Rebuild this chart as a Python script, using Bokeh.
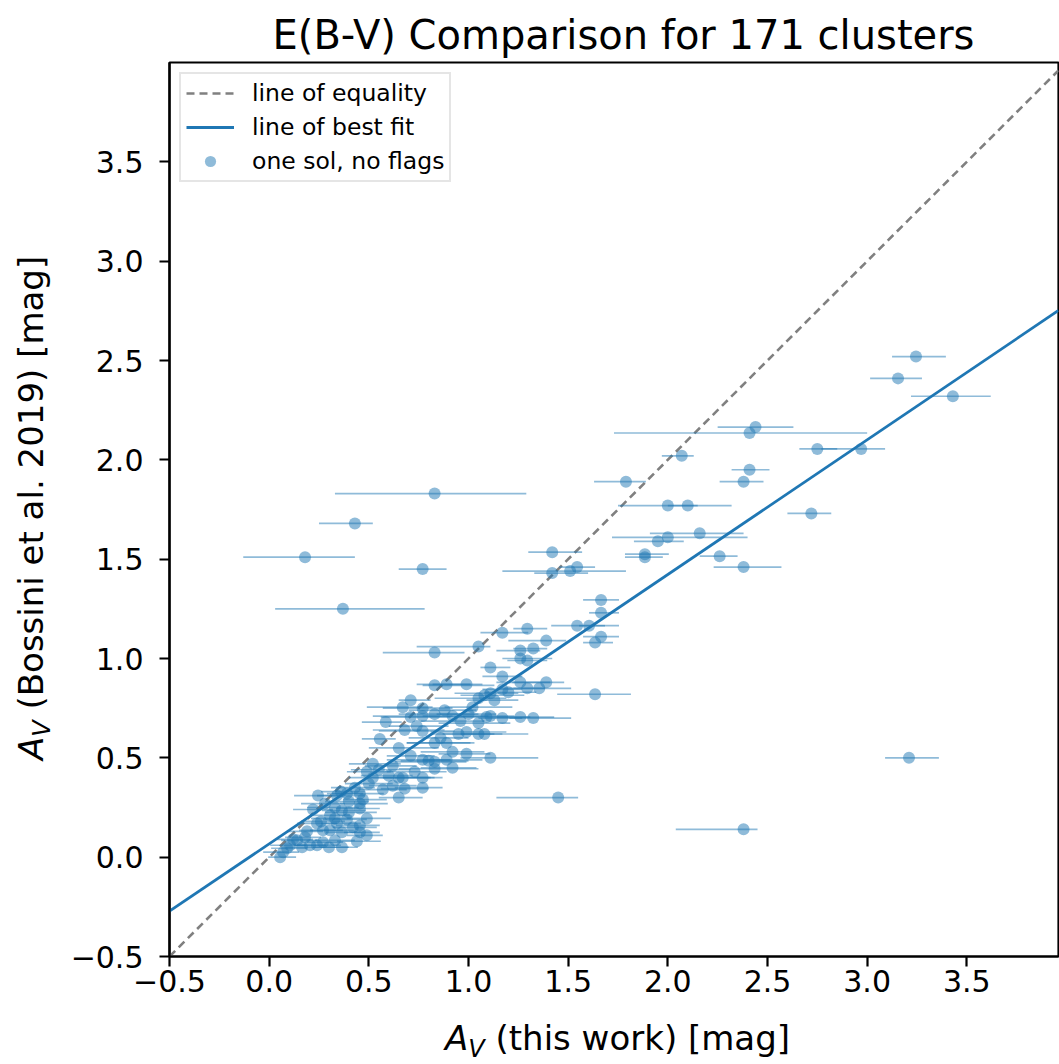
import numpy as np
from bokeh.plotting import figure
from bokeh.layouts import row, column
from bokeh.models import Div, FixedTicker, Range1d
from bokeh.embed import file_html
from bokeh.resources import INLINE

FONT = "DejaVu Sans"
BLUE = "#1f77b4"

# A_V from this work (x), A_V from Bossini et al. 2019 (y), and the
# lower / upper uncertainties on the x values.
av_this = [
    0.83, 0.43, 0.18, 0.77, 0.37, 1.45, 2.38, 3.21, 3.245, 3.155,
    3.43, 2.44, 2.41, 2.75, 2.97, 2.41, 2.38, 2.72, 2.07, 1.79,
    2.00, 2.10, 2.16, 2.00, 1.95, 1.885, 1.885, 2.26, 2.38, 1.665,
    1.665, 1.605, 1.545, 1.665, 1.635, 1.42, 1.51, 1.545, 1.42, 1.17,
    1.295, 1.39, 1.26, 1.325, 1.26, 1.295, 1.11, 1.17, 1.26, 1.39,
    1.295, 1.355, 1.635, 1.17, 1.11, 1.17, 1.26, 1.325, 1.05, 0.83,
    0.83, 0.89, 0.99, 0.71, 0.67, 0.585, 0.77, 0.71, 0.77, 0.83,
    0.92, 0.96, 1.02, 1.05, 1.08, 1.11, 1.05, 1.09, 0.99, 0.77,
    0.68, 0.83, 0.89, 0.92, 1.05, 1.08, 0.65, 0.71, 1.11, 0.77,
    0.80, 0.83, 0.89, 0.92, 0.83, 0.62, 0.65, 0.67, 0.77, 0.68,
    0.77, 0.65, 0.555, 0.52, 0.55, 0.49, 0.52, 0.245, 0.34, 0.40,
    0.455, 0.39, 0.455, 0.455, 0.33, 0.365, 0.40, 0.305, 0.33, 0.49,
    0.34, 0.24, 0.27, 0.305, 0.365, 0.42, 0.455, 0.49, 0.455, 0.18,
    0.14, 0.105, 0.165, 0.24, 0.27, 0.33, 0.365, 0.205, 0.09, 0.055,
    0.07, 0.22, 0.28, 0.36, 0.43, 0.47, 0.50, 0.26, 0.19, 0.12,
    0.39, 0.44, 0.30, 0.57, 0.60, 0.73, 0.86, 0.95, 1.00, 0.88,
    0.74, 1.20, 1.13, 0.62, 0.99,
]
av_bossini = [
    1.83, 1.68, 1.51, 1.45, 1.25, 0.30, 0.14, 0.50, 2.52, 2.41,
    2.32, 2.165, 2.135, 2.055, 2.055, 1.95, 1.89, 1.73, 2.02, 1.89,
    1.77, 1.77, 1.63, 1.61, 1.59, 1.525, 1.51, 1.515, 1.46, 1.295,
    1.23, 1.165, 1.165, 1.11, 1.08, 1.535, 1.44, 1.46, 1.43, 1.13,
    1.15, 1.09, 1.04, 1.05, 1.00, 0.99, 0.955, 0.91, 0.88, 0.88,
    0.85, 0.85, 0.82, 0.845, 0.71, 0.70, 0.705, 0.70, 1.06, 1.03,
    0.865, 0.87, 0.87, 0.79, 0.755, 0.68, 0.75, 0.705, 0.71, 0.72,
    0.71, 0.685, 0.755, 0.80, 0.815, 0.825, 0.675, 0.705, 0.63, 0.635,
    0.64, 0.575, 0.575, 0.53, 0.62, 0.62, 0.55, 0.51, 0.50, 0.49,
    0.485, 0.48, 0.49, 0.45, 0.445, 0.46, 0.40, 0.40, 0.40, 0.345,
    0.35, 0.30, 0.595, 0.47, 0.44, 0.43, 0.40, 0.31, 0.31, 0.28,
    0.32, 0.32, 0.27, 0.245, 0.25, 0.235, 0.225, 0.21, 0.195, 0.195,
    0.17, 0.17, 0.135, 0.135, 0.125, 0.15, 0.16, 0.11, 0.125, 0.10,
    0.085, 0.06, 0.05, 0.06, 0.075, 0.085, 0.05, 0.06, 0.045, 0.00,
    0.025, 0.24, 0.27, 0.33, 0.35, 0.29, 0.37, 0.18, 0.13, 0.09,
    0.19, 0.08, 0.05, 0.34, 0.41, 0.43, 0.60, 0.62, 0.72, 0.74,
    0.66, 0.83, 0.79, 0.36, 0.52,
]
err_lo = [
    0.50, 0.18, 0.31, 0.12, 0.34, 0.31, 0.34, 0.12, 0.12, 0.14,
    0.21, 0.19, 0.68, 0.09, 0.20, 0.09, 0.12, 0.12, 0.10, 0.16,
    0.25, 0.10, 0.25, 0.28, 0.12, 0.10, 0.10, 0.10, 0.15, 0.09,
    0.06, 0.05, 0.13, 0.09, 0.06, 0.12, 0.34, 0.09, 0.09, 0.11,
    0.07, 0.19, 0.12, 0.10, 0.09, 0.10, 0.05, 0.10, 0.12, 0.17,
    0.14, 0.13, 0.19, 0.10, 0.15, 0.12, 0.12, 0.12, 0.31, 0.26,
    0.06, 0.15, 0.17, 0.06, 0.18, 0.12, 0.20, 0.15, 0.25, 0.18,
    0.15, 0.20, 0.14, 0.22, 0.12, 0.18, 0.20, 0.16, 0.18, 0.22,
    0.16, 0.14, 0.20, 0.16, 0.18, 0.12, 0.15, 0.12, 0.15, 0.18,
    0.14, 0.20, 0.12, 0.16, 0.18, 0.14, 0.16, 0.10, 0.14, 0.12,
    0.14, 0.10, 0.09, 0.12, 0.14, 0.10, 0.12, 0.12, 0.10, 0.12,
    0.14, 0.10, 0.10, 0.12, 0.14, 0.10, 0.12, 0.10, 0.12, 0.10,
    0.08, 0.10, 0.12, 0.10, 0.08, 0.10, 0.12, 0.10, 0.08, 0.10,
    0.08, 0.10, 0.08, 0.10, 0.08, 0.10, 0.10, 0.08, 0.08, 0.06,
    0.10, 0.10, 0.12, 0.10, 0.12, 0.10, 0.12, 0.10, 0.10, 0.08,
    0.12, 0.10, 0.08, 0.12, 0.14, 0.14, 0.16, 0.14, 0.16, 0.18,
    0.14, 0.12, 0.14, 0.12, 0.14,
]
err_hi = [
    0.46, 0.09, 0.25, 0.12, 0.41, 0.10, 0.07, 0.15, 0.15, 0.12,
    0.19, 0.19, 0.59, 0.10, 0.12, 0.10, 0.10, 0.10, 0.06, 0.10,
    0.15, 0.22, 0.22, 0.40, 0.13, 0.12, 0.09, 0.09, 0.19, 0.09,
    0.09, 0.08, 0.21, 0.09, 0.09, 0.15, 0.28, 0.09, 0.18, 0.13,
    0.10, 0.10, 0.10, 0.07, 0.16, 0.10, 0.10, 0.10, 0.15, 0.09,
    0.09, 0.16, 0.18, 0.10, 0.12, 0.10, 0.17, 0.19, 0.06, 0.15,
    0.30, 0.12, 0.08, 0.10, 0.15, 0.08, 0.15, 0.20, 0.15, 0.22,
    0.18, 0.12, 0.20, 0.14, 0.20, 0.14, 0.16, 0.22, 0.20, 0.16,
    0.20, 0.18, 0.14, 0.16, 0.12, 0.22, 0.20, 0.12, 0.24, 0.14,
    0.20, 0.16, 0.18, 0.12, 0.22, 0.12, 0.18, 0.14, 0.10, 0.12,
    0.10, 0.12, 0.08, 0.14, 0.16, 0.12, 0.10, 0.10, 0.14, 0.10,
    0.12, 0.08, 0.14, 0.10, 0.12, 0.12, 0.14, 0.10, 0.08, 0.12,
    0.12, 0.10, 0.10, 0.12, 0.10, 0.12, 0.10, 0.08, 0.10, 0.08,
    0.10, 0.08, 0.10, 0.12, 0.10, 0.10, 0.08, 0.08, 0.10, 0.08,
    0.08, 0.10, 0.10, 0.12, 0.10, 0.12, 0.12, 0.12, 0.08, 0.10,
    0.10, 0.12, 0.10, 0.12, 0.12, 0.16, 0.14, 0.18, 0.14, 0.16,
    0.16, 0.14, 0.12, 0.12, 0.12,
]

# linear fit: A_V(Bossini) = fit_slope * A_V(this work) + fit_intercept
fit_slope = 0.678
fit_intercept = 0.067

x_limits = (-0.5, 3.96)
y_limits = (-0.5, 4.0)
tick_values = [-0.5, 0.0, 0.5, 1.0, 1.5, 2.0, 2.5, 3.0, 3.5]

x = np.array(av_this)
y = np.array(av_bossini)
lo = np.array(err_lo)
hi = np.array(err_hi)

# page geometry: y-label strip on the left, x-label strip at the bottom
LABEL_W = 60
LABEL_H = 52
PAGE_W, PAGE_H = 1059, 1064
FIG_W, FIG_H = PAGE_W - LABEL_W, PAGE_H - LABEL_H

p = figure(
    width=FIG_W, height=FIG_H,
    output_backend="svg", toolbar_location=None,
    x_range=Range1d(*x_limits), y_range=Range1d(*y_limits),
    min_border_left=109, min_border_right=1,
    min_border_top=62, min_border_bottom=56,
    title="E(B-V) Comparison for 171 clusters",
    margin=0,
)
p.background_fill_color = "white"
p.border_fill_color = "white"
p.xgrid.visible = False
p.ygrid.visible = False
p.outline_line_color = "black"
p.outline_line_width = 2.2

p.title.align = "left"
p.title.offset = 103
p.title.text_font = FONT
p.title.text_font_size = "40px"
p.title.text_font_style = "normal"
p.title.text_color = "black"

labels = {v: (f"{v:.1f}".replace("-", "\u2212")) for v in tick_values}
for ax in (p.xaxis, p.yaxis):
    ax.ticker = FixedTicker(ticks=tick_values)
    ax.major_label_overrides = labels
    ax.major_label_text_font = FONT
    ax.major_label_text_font_size = "30px"
    ax.major_label_text_color = "black"
    ax.major_tick_in = 0
    ax.major_tick_out = 10
    ax.major_tick_line_width = 2.2
    ax.minor_tick_line_color = None
    ax.axis_line_width = 2.2
    ax.axis_line_color = "black"
p.xaxis.major_label_standoff = 3
p.yaxis.major_label_standoff = 16

# line of equality and best fit
xl = np.array(x_limits)
p.line(xl, xl, line_color="#808080", line_width=2.6, line_dash="8 5",
       legend_label="line of equality")
p.line(xl, fit_slope * xl + fit_intercept, line_color=BLUE, line_width=2.8,
       legend_label="line of best fit")

# horizontal error bars and points
p.segment(x0=x - lo, y0=y, x1=x + hi, y1=y, line_color=BLUE,
          line_alpha=0.5, line_width=1.7)
p.scatter(x, y, size=12, fill_color=BLUE, fill_alpha=0.5, line_color=None,
          legend_label="one sol, no flags")

leg = p.legend[0]
leg.location = "top_left"
leg.label_text_font = FONT
leg.label_text_font_size = "23.5px"
leg.label_text_color = "black"
leg.border_line_color = "#cccccc"
leg.border_line_width = 2
leg.background_fill_alpha = 0.8
leg.margin = 10
leg.padding = 5
leg.spacing = 6
leg.glyph_width = 48
leg.glyph_height = 28
leg.label_height = 28
leg.label_standoff = 18

TEXT_CSS = ("white-space:nowrap;font-family:'DejaVu Sans';font-size:34px;"
            "line-height:1;color:black;")
SUB = ('<span style="font-size:24px;font-style:italic;position:relative;'
       'top:7px;">V</span>')

y_label = Div(
    width=LABEL_W, height=FIG_H, margin=0,
    text=(f'<div style="position:relative;width:{LABEL_W}px;height:{FIG_H}px;">'
          f'<span style="position:absolute;left:14px;top:760px;'
          f'transform:rotate(-90deg);transform-origin:0 0;{TEXT_CSS}">'
          f'<i>A</i>{SUB} (Bossini et al. 2019) [mag]</span></div>'),
)
x_label = Div(
    width=PAGE_W, height=LABEL_H, margin=0,
    text=(f'<div style="position:relative;width:{PAGE_W}px;height:{LABEL_H}px;">'
          f'<span style="position:absolute;left:445px;top:9px;{TEXT_CSS}">'
          f'<i>A</i>{SUB} (this work) [mag]</span></div>'),
)

page = column(row(y_label, p, spacing=0), x_label, spacing=0)

open("out.html", "w").write(file_html(page, INLINE))
